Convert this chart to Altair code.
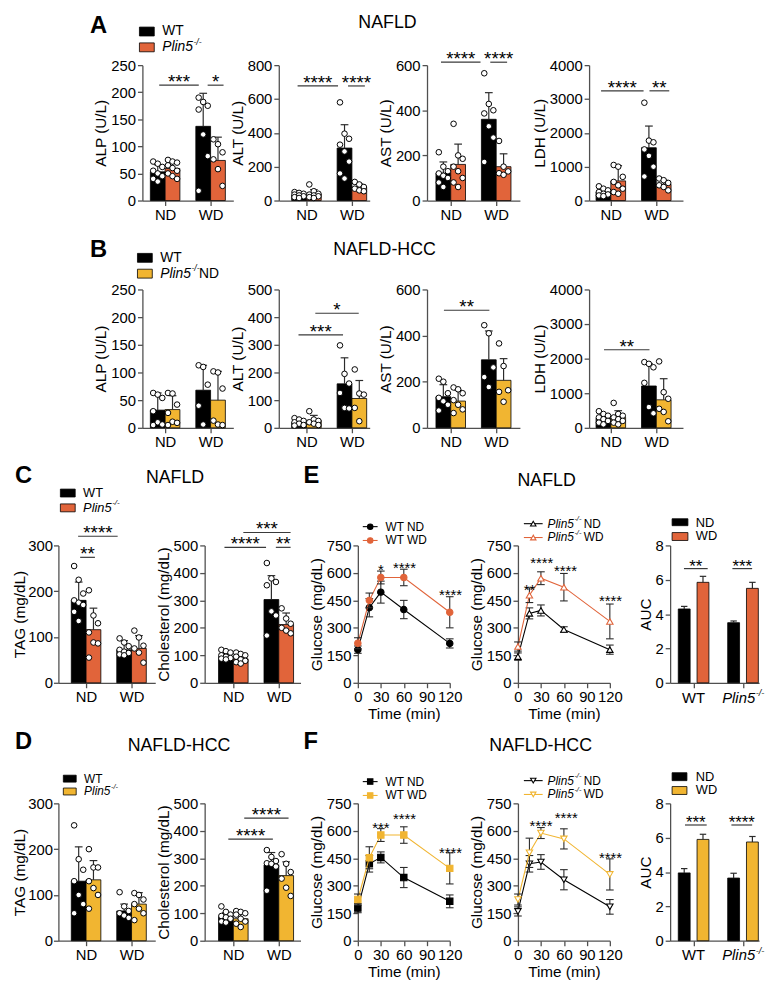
import altair as alt
import pandas as pd

FONT = "Liberation Sans"
BLACK = "#000000"
ORANGE = "#E1643A"
YELLOW = "#F1B531"
AXIS_C = "#505050"
ERR_C = "#2b2b2b"
SIG_C = "#3a3a3a"

# ----------------------------- data -----------------------------
# bar panels: order = WT ND, Plin5 ND, WT WD, Plin5 WD
A_ALP_MEAN = [53, 59, 137, 74]
A_ALP_SD = [13, 12, 61, 43]
A_ALP_PTS = [[72, 68, 62, 55, 50, 45, 40, 35], [75, 72, 70, 65, 60, 55, 50, 45, 40],
             [190, 182, 175, 168, 122, 82, 18], [113, 104, 89, 76, 58, 27]]
A_ALP_SIG = [(0.74, 2.48, 213, "***"), (2.87, 3.57, 213, "*")]

A_ALT_MEAN = [32, 39, 310, 78]
A_ALT_SD = [12, 25, 138, 20]
A_ALT_PTS = [[50, 45, 40, 35, 30, 25, 20, 15], [95, 55, 40, 35, 30, 25, 20, 15],
             [580, 395, 365, 330, 290, 230, 160, 130], [110, 95, 80, 70, 60, 55]]
A_ALT_SIG = [(0.61, 2.39, 677, "****"), (2.83, 3.57, 677, "****")]

A_AST_MEAN = [121, 160, 360, 150]
A_AST_SD = [50, 90, 118, 57]
A_AST_PTS = [[214, 150, 130, 120, 110, 100, 80, 60], [340, 200, 185, 150, 130, 100, 80, 60],
             [564, 428, 400, 386, 329, 279, 171], [264, 150, 129, 121, 114]]
A_AST_SIG = [(0.57, 2.31, 613, "****"), (2.74, 3.48, 613, "****")]

A_LDH_MEAN = [250, 580, 1560, 480]
A_LDH_SD = [100, 450, 640, 120]
A_LDH_PTS = [[420, 350, 300, 250, 200, 180, 150, 130], [1050, 1000, 700, 550, 450, 350, 250, 200],
             [2890, 1770, 1720, 1510, 1320, 1000, 710], [650, 600, 520, 450, 400, 300]]
A_LDH_SIG = [(0.57, 2.44, 3241, "****"), (2.70, 3.57, 3241, "**")]

B_ALP_MEAN = [32, 33, 68, 50]
B_ALP_SD = [31, 25, 45, 52]
B_ALP_PTS = [[63, 60, 54, 30, 10, 6, 5], [63, 62, 42, 27, 11, 9, 5],
             [113, 110, 78, 40, 6], [102, 100, 71, 13, 6, 5]]
B_ALP_SIG = []

B_ALT_MEAN = [20, 27, 159, 106]
B_ALT_SD = [10, 18, 94, 65]
B_ALT_PTS = [[35, 30, 25, 20, 15, 10, 8], [60, 30, 25, 20, 15, 10],
             [298, 195, 160, 126, 72, 70], [211, 124, 120, 72, 24]]
B_ALT_SIG = [(0.65, 2.61, 336, "***"), (1.39, 3.30, 414, "*")]

B_AST_MEAN = [135, 116, 295, 206]
B_AST_SD = [52, 47, 125, 94]
B_AST_PTS = [[213, 200, 150, 130, 115, 100, 75], [175, 167, 150, 120, 100, 80, 64],
             [445, 410, 262, 220, 177], [366, 268, 163, 156, 113]]
B_AST_SIG = [(0.70, 2.70, 510, "**")]

B_LDH_MEAN = [280, 305, 1210, 810]
B_LDH_SD = [120, 190, 650, 610]
B_LDH_PTS = [[480, 400, 350, 300, 250, 200, 150, 100], [720, 400, 350, 300, 250, 200, 150, 100],
             [1900, 1850, 1750, 1300, 600, 420], [1920, 1030, 840, 550, 460, 190]]
B_LDH_SIG = [(0.70, 2.70, 2257, "**")]

C_TAG_MEAN = [180, 116, 72, 75]
C_TAG_SD = [40, 47, 20, 28]
C_TAG_PTS = [[255, 225, 195, 180, 175, 170, 155, 135], [202, 147, 130, 110, 88, 86, 55],
             [97, 88, 80, 72, 68, 65, 62, 60], [114, 99, 81, 75, 66, 44]]
C_TAG_SIG = [(0.65, 2.39, 320, "****"), (0.74, 1.39, 274, "**")]

C_CHOL_MEAN = [95, 87, 303, 212]
C_CHOL_SD = [10, 20, 87, 42]
C_CHOL_PTS = [[120, 115, 110, 100, 95, 90, 88, 85], [110, 105, 100, 95, 85, 80, 75, 70],
              [436, 380, 367, 355, 260, 245, 172], [271, 234, 215, 200, 190, 180]]
C_CHOL_SIG = [(0.61, 2.44, 493, "****"), (1.44, 3.52, 547, "***"), (2.87, 3.52, 493, "**")]

D_TAG_MEAN = [130, 133, 65, 80]
D_TAG_SD = [75, 42, 15, 25]
D_TAG_PTS = [[252, 178, 155, 130, 100, 80, 60], [200, 160, 160, 130, 115, 100, 70],
             [106, 75, 65, 60, 55, 50], [104, 100, 90, 80, 70, 60, 45]]
D_TAG_SIG = []

D_CHOL_MEAN = [87, 80, 276, 237]
D_CHOL_SD = [15, 20, 45, 50]
D_CHOL_PTS = [[125, 105, 95, 90, 85, 80, 70, 66], [108, 105, 100, 95, 80, 70, 62, 50],
              [330, 305, 290, 282, 280, 270, 182], [315, 280, 250, 226, 193, 163]]
D_CHOL_SIG = [(0.78, 2.74, 370, "****"), (1.48, 3.43, 446, "****")]

# glucose tolerance curves
TIMES = [0, 15, 30, 60, 120]
E_WT_ND = [181, 410, 495, 400, 215]
E_WT_ND_SEM = [20, 50, 60, 50, 25]
E_WT_WD = [216, 450, 575, 575, 385]
E_WT_WD_SEM = [30, 40, 35, 45, 85]
E_KO_ND = [143, 379, 395, 291, 181]
E_KO_ND_SEM = [20, 30, 30, 15, 25]
E_KO_WD = [198, 478, 571, 522, 335]
E_KO_WD_SEM = [25, 40, 35, 75, 95]
E_WT_STARS = [(30, 590, "*"), (61, 599, "****"), (121, 453, "****")]
E_KO_STARS = [(15, 480, "**"), (31, 626, "****"), (62, 583, "****"), (121, 421, "****")]

F_WT_ND = [178, 420, 455, 345, 215]
F_WT_ND_SEM = [25, 45, 30, 55, 35]
F_WT_WD = [225, 453, 577, 577, 395]
F_WT_WD_SEM = [30, 60, 35, 45, 85]
F_KO_ND = [160, 420, 430, 333, 185]
F_KO_ND_SEM = [25, 45, 40, 55, 40]
F_KO_WD = [225, 480, 588, 556, 362]
F_KO_WD_SEM = [30, 80, 30, 55, 85]
F_WT_STARS = [(30, 588, "***"), (61, 637, "****"), (121, 453, "****")]
F_KO_STARS = [(30, 599, "****"), (63, 642, "****"), (121, 426, "****")]

# AUC: WT ND, WT WD, Plin5 ND, Plin5 WD
E_AUC = [4.3, 5.85, 3.5, 5.5]
E_AUC_SEM = [0.15, 0.35, 0.1, 0.35]
E_AUC_SIG = [(0.56, 1.52, 6.65, "**"), (2.52, 3.32, 6.65, "***")]
F_AUC = [3.95, 5.9, 3.65, 5.75]
F_AUC_SEM = [0.25, 0.3, 0.28, 0.32]
F_AUC_SIG = [(0.60, 1.48, 6.74, "***"), (2.48, 3.32, 6.74, "****")]

# ----------------------------- helpers -----------------------------
ONE = pd.DataFrame({"k": [0]})
STEP = 23.0
HALF = 0.325


def ax(**kw):
    base = dict(domainColor=AXIS_C, tickColor=AXIS_C, domainWidth=1.3, tickWidth=1.3, tickSize=5,
                labelColor="black", titleColor="black", labelFont=FONT, titleFont=FONT,
                labelFontSize=15, titleFontSize=15.5, titleFontWeight="normal", grid=False,
                labelPadding=2, titlePadding=2, labelFlush=False, labelOverlap=False, format="d")
    base.update(kw)
    return alt.Axis(**base)


def txt(s, x, y, size, weight="normal", style="normal", align="left", baseline="middle"):
    return alt.Chart(pd.DataFrame({"t": [s]})).mark_text(
        align=align, baseline=baseline, fontSize=size, fontWeight=weight,
        fontStyle=style, color="black", font=FONT
    ).encode(x=alt.value(x), y=alt.value(y), text="t:N")


def rect(x1, x2, y1, y2, col):
    return alt.Chart(ONE).mark_rect(color=col, stroke="black", strokeWidth=0.8).encode(
        x=alt.value(x1), x2=alt.value(x2), y=alt.value(y1), y2=alt.value(y2))


def plin5(x, y, fs, suffix="", gap=0.0):
    w1 = 2.223 * fs
    sfs = round(fs * 0.62, 1)
    w2 = 0.944 * sfs
    out = [txt("Plin5", x, y, fs, style="italic"),
           txt("-/-", x + w1 + 0.5, y - fs * 0.38, sfs, style="italic")]
    if suffix:
        out.append(txt(suffix, x + w1 + w2 + gap, y, fs))
    return out


def bar_legend(x, y1, y2, hgt, wid, ko, fs, suffix=""):
    return [rect(x, x + wid, y1 - hgt / 2, y1 + hgt / 2, BLACK),
            txt("WT", x + wid + 8, y1, fs),
            rect(x, x + wid, y2 - hgt / 2, y2 + hgt / 2, ko)] + plin5(x + wid + 8, y2, fs, suffix)


def line_legend(x1, x2, y, col, shape, fill):
    r = alt.Chart(ONE).mark_rule(color=col, strokeWidth=1.1).encode(
        x=alt.value(x1), x2=alt.value(x2), y=alt.value(y))
    p = alt.Chart(ONE).mark_point(shape=shape, filled=True, fill=fill, stroke=col,
                                  strokeWidth=1.1, size=30, opacity=1).encode(
        x=alt.value((x1 + x2) / 2), y=alt.value(y))
    return [r, p]


def spacer(w, h):
    return alt.Chart(ONE).mark_point(opacity=0).encode(
        x=alt.X("k:Q", axis=None), y=alt.Y("k:Q", axis=None)).properties(width=w, height=h)


def bar_panel(mean, sd, pts, ko, ytitle, ymax, ystep, sigs, lead, w, h, extras=(), tight=False):
    dmin = 1 - lead / STEP
    xs = alt.Scale(domain=[dmin, dmin + w / STEP], nice=False, zero=False)
    ys = alt.Scale(domain=[0, ymax], nice=False)
    XA = ax(values=[1, 3], title=None, labelExpr="datum.value == 1 ? 'ND' : 'WD'")
    if tight:
        YA = ax(values=list(range(0, ymax + 1, ystep)), title=ytitle, titlePadding=0, labelPadding=1)
    else:
        YA = ax(values=list(range(0, ymax + 1, ystep)), title=ytitle)

    def X(f):
        return alt.X(f, scale=xs, axis=XA)

    def Y(f):
        return alt.Y(f, scale=ys, axis=YA)

    centers = [1 - HALF, 1 + HALF, 3 - HALF, 3 + HALF]
    cols = [BLACK, ko, BLACK, ko]
    bdf = pd.DataFrame({"c": centers, "m": mean, "s": sd, "col": cols})
    base = alt.Chart(bdf).transform_calculate(
        x1=f"datum.c - {HALF}", x2=f"datum.c + {HALF}", t="datum.m + datum.s",
        a="datum.c - 0.17", b="datum.c + 0.17")
    bars = base.mark_bar(stroke="black", strokeWidth=0.8).encode(
        x=X("x1:Q"), x2="x2:Q", y=Y("m:Q"), y2=alt.datum(0),
        color=alt.Color("col:N", scale=None))
    err = base.mark_rule(color=ERR_C, strokeWidth=1.2).encode(x=X("c:Q"), y=Y("m:Q"), y2="t:Q")
    cap = base.mark_rule(color=ERR_C, strokeWidth=1.2).encode(x=X("a:Q"), x2="b:Q", y=Y("t:Q"))
    rows = []
    for g, (c, vals) in enumerate(zip(centers, pts)):
        for v in vals:
            rows.append({"g": g, "c": c, "v": v})
    dots = alt.Chart(pd.DataFrame(rows)).transform_window(
        rn="row_number()", groupby=["g"]).transform_calculate(
        xj="datum.c + ((datum.rn - 1) % 3 - 1) * 0.2").mark_circle(
        size=32, fill="white", stroke="black", strokeWidth=1, opacity=1).encode(
        x=X("xj:Q"), y=Y("v:Q"))
    layers = [bars, err, cap, dots]
    if sigs:
        sdf = pd.DataFrame(sigs, columns=["x1", "x2", "y", "lab"])
        layers.append(alt.Chart(sdf).mark_rule(color=SIG_C, strokeWidth=1.2).encode(
            x=X("x1:Q"), x2="x2:Q", y=Y("y:Q")))
        layers.append(alt.Chart(sdf).transform_calculate(xm="(datum.x1 + datum.x2) / 2").mark_text(
            fontSize=19, baseline="alphabetic", dy=3, font=FONT, color="black").encode(
            x=X("xm:Q"), y=Y("y:Q"), text="lab:N"))
    return alt.layer(*layers, *extras).properties(width=w, height=h)


def line_panel(nd, nd_s, wd, wd_s, wd_col, shape, open_marker, stars, w, h, extras=()):
    xs = alt.Scale(domain=[0, 120], nice=False)
    ys = alt.Scale(domain=[0, 750], nice=False)
    XA = ax(values=[0, 30, 60, 90, 120], title="Time (min)")
    YA = ax(values=[0, 150, 300, 450, 600, 750], title="Glucose (mg/dL)")

    def X(f):
        return alt.X(f, scale=xs, axis=XA)

    def Y(f):
        return alt.Y(f, scale=ys, axis=YA)

    layers = []
    for m, s, col in ((nd, nd_s, BLACK), (wd, wd_s, wd_col)):
        df = pd.DataFrame({"t": TIMES, "m": m, "s": s})
        base = alt.Chart(df).transform_calculate(
            lo="datum.m - datum.s", hi="datum.m + datum.s", a="datum.t - 5", b="datum.t + 5")
        line = base.mark_line(color=col, strokeWidth=1.1).encode(x=X("t:Q"), y=Y("m:Q"))
        eb = base.mark_rule(color=ERR_C, strokeWidth=1.1).encode(x=X("t:Q"), y=Y("lo:Q"), y2="hi:Q")
        c1 = base.mark_rule(color=ERR_C, strokeWidth=1.1).encode(x=X("a:Q"), x2="b:Q", y=Y("hi:Q"))
        c2 = base.mark_rule(color=ERR_C, strokeWidth=1.1).encode(x=X("a:Q"), x2="b:Q", y=Y("lo:Q"))
        fill = "white" if open_marker else col
        pt = base.mark_point(shape=shape, filled=True, fill=fill, stroke=col, strokeWidth=1.1,
                             size=42, opacity=1).encode(x=X("t:Q"), y=Y("m:Q"))
        layers += [line, eb, c1, c2, pt]
    sdf = pd.DataFrame(stars, columns=["t", "y", "lab"])
    layers.append(alt.Chart(sdf).mark_text(fontSize=15, baseline="alphabetic", font=FONT,
                                           color="black").encode(
        x=X("t:Q"), y=Y("y:Q"), text="lab:N"))
    return alt.layer(*layers, *extras).properties(width=w, height=h)


def auc_panel(means, sems, ko, sigs, w, h, extras=()):
    xs = alt.Scale(domain=[0, w / 25.0], nice=False, zero=False)
    ys = alt.Scale(domain=[0, 8], nice=False)
    XA = ax(values=[0.95, 2.95], labels=False, title=None)
    YA = ax(values=[0, 2, 4, 6, 8], title="AUC")

    def X(f):
        return alt.X(f, scale=xs, axis=XA)

    def Y(f):
        return alt.Y(f, scale=ys, axis=YA)

    gc = [0.95, 0.95, 2.95, 2.95]
    off = [-0.38, 0.38, -0.38, 0.38]
    df = pd.DataFrame({"c": [g + o for g, o in zip(gc, off)], "m": means, "s": sems,
                       "col": [BLACK, ko, BLACK, ko]})
    base = alt.Chart(df).transform_calculate(
        x1="datum.c - 0.24", x2="datum.c + 0.24", t="datum.m + datum.s",
        a="datum.c - 0.13", b="datum.c + 0.13")
    bars = base.mark_bar(stroke="black", strokeWidth=0.8).encode(
        x=X("x1:Q"), x2="x2:Q", y=Y("m:Q"), y2=alt.datum(0),
        color=alt.Color("col:N", scale=None))
    err = base.mark_rule(color=ERR_C, strokeWidth=1.2).encode(x=X("c:Q"), y=Y("m:Q"), y2="t:Q")
    cap = base.mark_rule(color=ERR_C, strokeWidth=1.2).encode(x=X("a:Q"), x2="b:Q", y=Y("t:Q"))
    sdf = pd.DataFrame(sigs, columns=["x1", "x2", "y", "lab"])
    srule = alt.Chart(sdf).mark_rule(color=SIG_C, strokeWidth=1.2).encode(
        x=X("x1:Q"), x2="x2:Q", y=Y("y:Q"))
    stext = alt.Chart(sdf).transform_calculate(xm="(datum.x1 + datum.x2) / 2").mark_text(
        fontSize=17, baseline="alphabetic", dy=3, font=FONT, color="black").encode(
        x=X("xm:Q"), y=Y("y:Q"), text="lab:N")
    fs = 15
    w1 = 2.223 * fs
    sfs = round(fs * 0.62, 1)
    w2 = 0.944 * sfs
    lab_wt = alt.Chart(pd.DataFrame({"x": [0.95], "t": ["WT"]})).mark_text(
        baseline="top", fontSize=fs, font=FONT, color="black").encode(
        x=X("x:Q"), y=alt.value(h + 8), text="t:N")
    lab_ko = alt.Chart(pd.DataFrame({"x": [2.95], "t": ["Plin5"]})).mark_text(
        baseline="top", align="left", dx=-(w1 + w2) / 2, fontSize=fs, fontStyle="italic",
        font=FONT, color="black").encode(
        x=X("x:Q"), y=alt.value(h + 8), text="t:N")
    lab_sup = alt.Chart(pd.DataFrame({"x": [2.95], "t": ["-/-"]})).mark_text(
        baseline="top", align="left", dx=-(w1 + w2) / 2 + w1 + 0.5, fontSize=sfs,
        fontStyle="italic", font=FONT, color="black").encode(
        x=X("x:Q"), y=alt.value(h + 6), text="t:N")
    return alt.layer(bars, err, cap, srule, stext, lab_wt, lab_ko, lab_sup, *extras).properties(
        width=w, height=h)


# ----------------------------- panels -----------------------------
H1, H2, H3, H4 = 137, 140, 139, 139
LEG = 12  # legend font of the glucose panels

a_extras = [txt("A", -53, -52, 24, weight="bold", baseline="top"),
            txt("NAFLD", 248, -52, 18, align="center", baseline="top")] + \
    bar_legend(-3, -34, -18, 9, 15, ORANGE, 14)
pA1 = bar_panel(A_ALP_MEAN, A_ALP_SD, A_ALP_PTS, ORANGE, "ALP (U/L)", 250, 50, A_ALP_SIG, 23, 92, H1, a_extras)
pA2 = bar_panel(A_ALT_MEAN, A_ALT_SD, A_ALT_PTS, ORANGE, "ALT (U/L)", 800, 200, A_ALT_SIG, 28, 92, H1)
pA3 = bar_panel(A_AST_MEAN, A_AST_SD, A_AST_PTS, ORANGE, "AST (U/L)", 600, 200, A_AST_SIG, 24, 94, H1)
pA4 = bar_panel(A_LDH_MEAN, A_LDH_SD, A_LDH_PTS, ORANGE, "LDH (U/L)", 4000, 1000, A_LDH_SIG, 22, 95, H1)

b_extras = [txt("B", -53, -52, 24, weight="bold", baseline="top"),
            txt("NAFLD-HCC", 245, -49, 18, align="center", baseline="top")] + \
    bar_legend(-5, -32, -16, 9, 15, YELLOW, 14, suffix="ND")
pB1 = bar_panel(B_ALP_MEAN, B_ALP_SD, B_ALP_PTS, YELLOW, "ALP (U/L)", 250, 50, B_ALP_SIG, 23, 92, H2, b_extras)
pB2 = bar_panel(B_ALT_MEAN, B_ALT_SD, B_ALT_PTS, YELLOW, "ALT (U/L)", 500, 100, B_ALT_SIG, 28, 92, H2)
pB3 = bar_panel(B_AST_MEAN, B_AST_SD, B_AST_PTS, YELLOW, "AST (U/L)", 600, 200, B_AST_SIG, 24, 94, H2)
pB4 = bar_panel(B_LDH_MEAN, B_LDH_SD, B_LDH_PTS, YELLOW, "LDH (U/L)", 4000, 1000, B_LDH_SIG, 22, 95, H2)

c_extras = [txt("C", -44, -82, 24, weight="bold", baseline="top"),
            txt("NAFLD", 118, -77, 18, align="center", baseline="top")] + \
    bar_legend(2, -53, -38, 8, 15, ORANGE, 13)
pC1 = bar_panel(C_TAG_MEAN, C_TAG_SD, C_TAG_PTS, ORANGE, "TAG (mg/dL)", 300, 100, C_TAG_SIG, 28, 98, H3,
                c_extras, tight=True)
pC2 = bar_panel(C_CHOL_MEAN, C_CHOL_SD, C_CHOL_PTS, ORANGE, "Cholesterol (mg/dL)", 500, 100, C_CHOL_SIG, 29, 97, H3)

e1_extras = [txt("E", -55, -82, 24, weight="bold", baseline="top"),
             txt("NAFLD", 191, -74, 18, align="center", baseline="top")] + \
    line_legend(5, 20, -19, BLACK, "circle", BLACK) + [txt("WT ND", 28, -19, LEG)] + \
    line_legend(5, 20, -5, ORANGE, "circle", ORANGE) + [txt("WT WD", 28, -5, LEG)]
pE1 = line_panel(E_WT_ND, E_WT_ND_SEM, E_WT_WD, E_WT_WD_SEM, ORANGE, "circle", False, E_WT_STARS, 93, H3, e1_extras)

e2_extras = line_legend(6, 25, -22, BLACK, "triangle-up", "white") + plin5(30, -22, LEG, "ND", 3) + \
    line_legend(6, 25, -8, ORANGE, "triangle-up", "white") + plin5(30, -8, LEG, "WD", 3)
pE2 = line_panel(E_KO_ND, E_KO_ND_SEM, E_KO_WD, E_KO_WD_SEM, ORANGE, "triangle-up", True, E_KO_STARS, 93, H3, e2_extras)

e3_extras = [rect(2, 18, -27, -20, BLACK), txt("ND", 26, -23, 13),
             rect(2, 18, -13, -5, ORANGE), txt("WD", 26, -9, 13)]
pE3 = auc_panel(E_AUC, E_AUC_SEM, ORANGE, E_AUC_SIG, 90, H3, e3_extras)

d_extras = [txt("D", -44, -74, 24, weight="bold", baseline="top"),
            txt("NAFLD-HCC", 122, -67, 18, align="center", baseline="top")] + \
    bar_legend(5, -25, -12, 7, 13, YELLOW, 12)
pD1 = bar_panel(D_TAG_MEAN, D_TAG_SD, D_TAG_PTS, YELLOW, "TAG (mg/dL)", 300, 100, D_TAG_SIG, 28, 98, H4,
                d_extras, tight=True)
pD2 = bar_panel(D_CHOL_MEAN, D_CHOL_SD, D_CHOL_PTS, YELLOW, "Cholesterol (mg/dL)", 500, 100, D_CHOL_SIG, 29, 97, H4)

f1_extras = [txt("F", -55, -74, 24, weight="bold", baseline="top"),
             txt("NAFLD-HCC", 185, -67, 18, align="center", baseline="top")] + \
    line_legend(5, 20, -22, BLACK, "square", BLACK) + [txt("WT ND", 28, -22, LEG)] + \
    line_legend(5, 20, -8, YELLOW, "square", YELLOW) + [txt("WT WD", 28, -8, LEG)]
pF1 = line_panel(F_WT_ND, F_WT_ND_SEM, F_WT_WD, F_WT_WD_SEM, YELLOW, "square", False, F_WT_STARS, 93, H4, f1_extras)

f2_extras = line_legend(6, 25, -23, BLACK, "triangle-down", "white") + plin5(30, -23, LEG, "ND", 3) + \
    line_legend(6, 25, -9, YELLOW, "triangle-down", "white") + plin5(30, -9, LEG, "WD", 3)
pF2 = line_panel(F_KO_ND, F_KO_ND_SEM, F_KO_WD, F_KO_WD_SEM, YELLOW, "triangle-down", True, F_KO_STARS, 93, H4, f2_extras)

f3_extras = [rect(2, 17, -31, -23, BLACK), txt("ND", 26, -27, 13),
             rect(2, 17, -17, -9, YELLOW), txt("WD", 26, -13, 13)]
pF3 = auc_panel(F_AUC, F_AUC_SEM, YELLOW, F_AUC_SIG, 90, H4, f3_extras)

# ----------------------------- layout -----------------------------
S = 48  # leading spacer keeps every row's left edge at the same place


def hrow(*items):
    return alt.hconcat(*items, spacing=0, bounds="flush")


row1 = hrow(spacer(S + 85, H1), pA1, spacer(46, H1), pA2, spacer(58, H1), pA3, spacer(70, H1), pA4)
row2 = hrow(spacer(S + 85, H2), pB1, spacer(46, H2), pB2, spacer(58, H2), pB3, spacer(70, H2), pB4)
row3 = hrow(spacer(S, H3), pC1, spacer(50, H3), pC2, spacer(58, H3), pE1, spacer(69, H3), pE2,
            spacer(61, H3), pE3)
row4 = hrow(spacer(S, H4), pD1, spacer(50, H4), pD2, spacer(58, H4), pF1, spacer(69, H4), pF2,
            spacer(61, H4), pF3)

chart = alt.vconcat(row1, spacer(1, 16), row2, spacer(1, 15), row3, spacer(1, 8), row4,
                    spacing=0).properties(
    padding={"left": 0, "top": 0, "right": 0, "bottom": 0}
).configure_view(stroke=None).configure_text(font=FONT)

chart.save("out.html", embed_options={"renderer": "svg", "actions": False})
